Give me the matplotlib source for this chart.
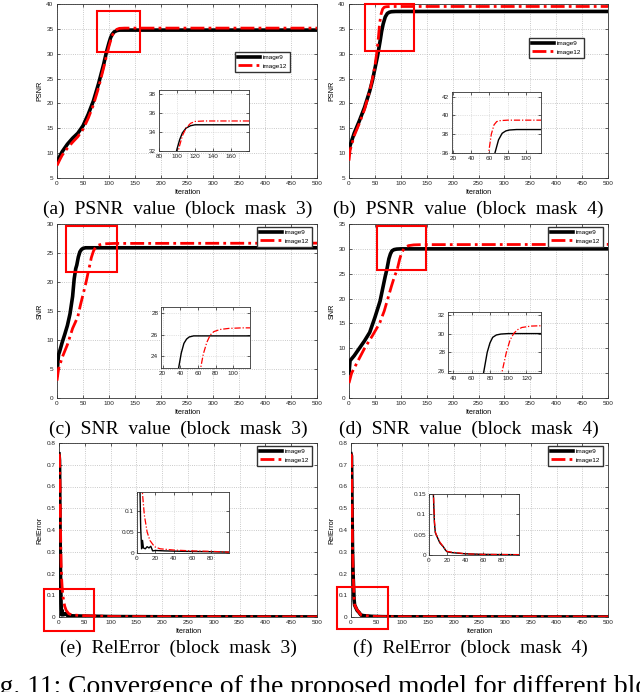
import numpy as np
import matplotlib
matplotlib.use('Agg')
import matplotlib.pyplot as plt
from matplotlib.patches import Rectangle

plt.rcParams['font.family'] = ['Liberation Sans', 'DejaVu Sans']

# ---- data (iteration, value) ----
# (a) PSNR, block mask 3
a9_x = [0, 5, 10, 20, 30, 40, 50, 60, 70, 80, 90, 95, 100, 103, 106, 110, 115, 120, 130, 500]
a9_y = [8.3, 9.3, 10.3, 11.8, 13.0, 14.0, 15.5, 17.8, 20.5, 24.0, 28.0, 30.3, 32.2, 33.2, 33.9, 34.4, 34.65, 34.75, 34.75, 34.75]
a12_x = [0, 5, 10, 20, 30, 40, 50, 60, 70, 80, 90, 95, 100, 103, 106, 110, 115, 120, 130, 500]
a12_y = [7.5, 8.6, 9.6, 11.0, 12.2, 13.3, 14.8, 17.0, 19.7, 23.2, 27.3, 29.5, 31.5, 32.6, 33.6, 34.4, 34.9, 35.1, 35.15, 35.15]

# (b) PSNR, block mask 4
b9_x = [0, 2, 10, 20, 30, 40, 45, 50, 55, 60, 63, 66, 70, 74, 78, 82, 90, 500]
b9_y = [10.5, 11.5, 14.0, 16.5, 19.2, 22.5, 24.5, 27.0, 29.5, 32.5, 34.5, 36.0, 37.4, 38.1, 38.35, 38.45, 38.5, 38.5]
b12_x = [0, 2, 10, 20, 30, 40, 45, 50, 54, 57, 59, 62, 65, 68, 72, 80, 500]
b12_y = [8.5, 10.5, 13.5, 16.0, 18.8, 22.5, 24.8, 27.5, 30.5, 33.5, 36.0, 38.0, 39.0, 39.35, 39.45, 39.5, 39.5]

# (c) SNR, block mask 3
c9_x = [0, 2, 3, 5, 10, 15, 20, 25, 30, 33, 36, 38, 41, 44, 47, 50, 55, 500]
c9_y = [4.0, 6.5, 7.5, 8.0, 9.6, 11.0, 12.5, 14.5, 17.5, 20.5, 22.3, 22.9, 24.3, 25.2, 25.6, 25.8, 25.9, 25.9]
c12_x = [0, 3, 10, 20, 30, 40, 45, 50, 56, 60, 63, 66, 70, 74, 78, 85, 95, 110, 500]
c12_y = [3.0, 5.0, 7.0, 9.2, 12.0, 14.0, 16.0, 17.8, 20.0, 21.7, 22.9, 24.2, 25.3, 26.0, 26.3, 26.5, 26.6, 26.65, 26.7]

# (d) SNR, block mask 4
d9_x = [0, 2, 10, 20, 30, 40, 46, 50, 60, 66, 70, 73, 77, 80, 83, 87, 92, 100, 500]
d9_y = [5.0, 7.5, 8.5, 10.0, 11.5, 13.2, 15.0, 16.2, 19.5, 22.5, 24.5, 25.8, 28.0, 29.0, 29.6, 29.85, 29.95, 30.0, 30.0]
d12_x = [0, 5, 15, 30, 45, 59, 68, 75, 82, 88, 93, 98, 102, 106, 110, 115, 125, 140, 500]
d12_y = [3.0, 5.0, 7.0, 10.0, 12.5, 15.0, 17.5, 20.0, 22.5, 24.5, 25.8, 28.0, 29.3, 30.0, 30.4, 30.65, 30.8, 30.85, 30.9]

# (e) RelError, block mask 3
e9_x = [0, 1, 2, 3, 4, 5, 6, 7, 9, 11, 13, 15, 17, 20, 30, 50, 80, 100, 200, 500]
e9_y = [0.75, 0.72, 0.40, 0.18, 0.06, 0.01, 0.03, 0.012, 0.01, 0.015, 0.012, 0.016, 0.005, 0.006, 0.005, 0.004, 0.003, 0.002, 0.001, 0.0005]
e12_x = [0, 1, 2, 3, 4, 5, 6, 8, 11, 14, 19, 25, 40, 60, 80, 100, 200, 500]
e12_y = [0.75, 0.74, 0.60, 0.40, 0.25, 0.18, 0.14, 0.09, 0.05, 0.03, 0.015, 0.01, 0.007, 0.005, 0.004, 0.002, 0.001, 0.0005]

# (f) RelError, block mask 4
f9_x = [0, 1, 2, 3, 4, 5, 6, 7, 8, 10, 12, 14, 16, 18, 20, 25, 30, 40, 60, 80, 100, 500]
f9_y = [0.75, 0.74, 0.50, 0.30, 0.20, 0.14, 0.08, 0.055, 0.05, 0.04, 0.03, 0.025, 0.02, 0.013, 0.008, 0.006, 0.005, 0.003, 0.0015, 0.001, 0.0008, 0.0003]
f12_x = [0, 1, 2, 3, 4, 5, 6, 7, 8, 10, 12, 14, 16, 18, 20, 25, 30, 40, 60, 80, 100, 500]
f12_y = [0.75, 0.74, 0.52, 0.32, 0.21, 0.15, 0.085, 0.058, 0.05, 0.042, 0.032, 0.026, 0.02, 0.014, 0.009, 0.007, 0.006, 0.003, 0.0015, 0.0012, 0.0008, 0.0003]

W, H = 640, 692

panels = [
    dict(s=(a9_x, a9_y, a12_x, a12_y), ylab='PSNR', ylim=(5, 40), yt=np.arange(5, 41, 5),
         box=(57, 4, 317, 178), ibox=(159, 90, 249, 151), ixl=(80, 180), iyl=(32, 38.4),
         ixt=[80, 100, 120, 140, 160], iyt=[32, 34, 36, 38], rect=(77, 30.3, 83, 8.3),
         leg=(235, 52), cap='(a)  PSNR  value  (block  mask  3)', cxy=(178, 209)),
    dict(s=(b9_x, b9_y, b12_x, b12_y), ylab='PSNR', ylim=(5, 40), yt=np.arange(5, 41, 5),
         box=(349, 4, 608, 178), ibox=(452, 92, 541, 153), ixl=(18.5, 117), iyl=(36, 42.5),
         ixt=[20, 40, 60, 80, 100], iyt=[36, 38, 40, 42], rect=(30, 30.5, 95, 9.4),
         leg=(529, 38), cap='(b)  PSNR  value  (block  mask  4)', cxy=(468, 209)),
    dict(s=(c9_x, c9_y, c12_x, c12_y), ylab='SNR', ylim=(0, 30), yt=np.arange(0, 31, 5),
         box=(57, 224, 317, 398), ibox=(161, 307, 250, 368), ixl=(18, 119), iyl=(22.9, 28.6),
         ixt=[20, 40, 60, 80, 100], iyt=[24, 26, 28], rect=(17.4, 21.7, 98.3, 7.9),
         leg=(257, 227), cap='(c)  SNR  value  (block  mask  3)', cxy=(178, 429)),
    dict(s=(d9_x, d9_y, d12_x, d12_y), ylab='SNR', ylim=(0, 35), yt=np.arange(0, 36, 5),
         box=(349, 224, 608, 398), ibox=(448, 312, 541, 373), ixl=(34, 136), iyl=(25.8, 32.3),
         ixt=[40, 60, 80, 100, 120], iyt=[26, 28, 30, 32], rect=(53.4, 25.7, 94.6, 8.8),
         leg=(548, 227), cap='(d)  SNR  value  (block  mask  4)', cxy=(469, 429)),
    dict(s=(e9_x, e9_y, e12_x, e12_y), ylab='RelError', ylim=(0, 0.8), yt=np.arange(0, 0.81, 0.1),
         box=(59, 443, 317, 617), ibox=(137, 492, 229, 553), ixl=(0, 100), iyl=(0, 0.145),
         ixt=[0, 20, 40, 60, 80], iyt=[0, 0.05, 0.1], rect=(-29, -0.063, 97.7, 0.192),
         leg=(257, 446), cap='(e)  RelError  (block  mask  3)', cxy=(178, 648)),
    dict(s=(f9_x, f9_y, f12_x, f12_y), ylab='RelError', ylim=(0, 0.8), yt=np.arange(0, 0.81, 0.1),
         box=(351, 443, 608, 617), ibox=(429, 494, 519, 555), ixl=(0, 100), iyl=(0, 0.15),
         ixt=[0, 20, 40, 60, 80], iyt=[0, 0.05, 0.1, 0.15], rect=(-27, -0.055, 98.8, 0.193),
         leg=(548, 446), cap='(f)  RelError  (block  mask  4)', cxy=(470, 648)),
]


def fbox(b):
    x0, y0, x1, y1 = b
    return [x0 / W, 1 - y1 / H, (x1 - x0) / W, (y1 - y0) / H]


def ytick_fmt(v):
    if abs(v - round(v)) < 1e-9:
        return '%d' % round(v)
    return ('%g' % v)


fig = plt.figure(figsize=(6.4, 6.92), dpi=100)

for p in panels:
    x9, y9, x12, y12 = p['s']
    ax = fig.add_axes(fbox(p['box']))
    ax.plot(x9, y9, color='black', lw=2.6, label='image9', zorder=3)
    ax.plot(x12, y12, color='red', lw=2.0, ls=(0, (5, 1.5, 1, 1.5)), label='image12', zorder=4)
    ax.set_xlim(0, 500)
    ax.set_ylim(*p['ylim'])
    ax.set_xticks(np.arange(0, 501, 50))
    ax.set_yticks(p['yt'])
    ax.set_yticklabels([ytick_fmt(v) for v in p['yt']])
    ax.grid(True, linestyle=':', color='#b8b8b8', lw=0.6)
    ax.tick_params(direction='in', top=True, right=True, length=2.5, width=0.5,
                   labelsize=4.6, pad=2.5, colors='#222222')
    for sp in ax.spines.values():
        sp.set_linewidth(0.6)
        sp.set_color('#333333')
    ax.set_xlabel('Iteration', fontsize=5.2, labelpad=1.5)
    ax.set_ylabel(p['ylab'], fontsize=5.2, labelpad=2)
    rx, ry, rw, rh = p['rect']
    ax.add_patch(Rectangle((rx, ry), rw, rh, fill=False, edgecolor='red', lw=1.5,
                           clip_on=False, zorder=6))
    lx, ly = p['leg']
    ax.legend(loc='upper left', bbox_to_anchor=(lx / W, 1 - ly / H),
              bbox_transform=fig.transFigure, fontsize=4.6, handlelength=3.5,
              fancybox=False, framealpha=1, edgecolor='#333333',
              borderpad=0.45, labelspacing=0.45, handletextpad=0.4, borderaxespad=0)

    ins = fig.add_axes(fbox(p['ibox']))
    ins.plot(x9, y9, color='black', lw=1.0)
    ins.plot(x12, y12, color='red', lw=0.9, ls=(0, (5, 1.5, 1, 1.5)))
    ins.set_xlim(*p['ixl'])
    ins.set_ylim(*p['iyl'])
    ins.set_xticks(p['ixt'])
    ins.set_yticks(p['iyt'])
    ins.set_yticklabels([ytick_fmt(v) for v in p['iyt']])
    ins.grid(True, linestyle=':', color='#c8c8c8', lw=0.5)
    ins.tick_params(direction='in', top=True, right=True, length=2, width=0.5,
                    labelsize=4.6, pad=2, colors='#222222')
    for sp in ins.spines.values():
        sp.set_linewidth(0.6)
        sp.set_color('#333333')

    cx, cy = p['cxy']
    fig.text(cx / W, 1 - cy / H, p['cap'], ha='center', va='center',
             fontsize=14, family='Liberation Serif')

# figure caption, cut off by the page edges as in the reference
fig.text(-0.036, -0.003, 'Fig. 11: Convergence of the proposed model for different block masks.',
         ha='left', va='baseline', fontsize=19.8, family='Liberation Serif')

fig.savefig('out.png', dpi=100)
plt.close(fig)
